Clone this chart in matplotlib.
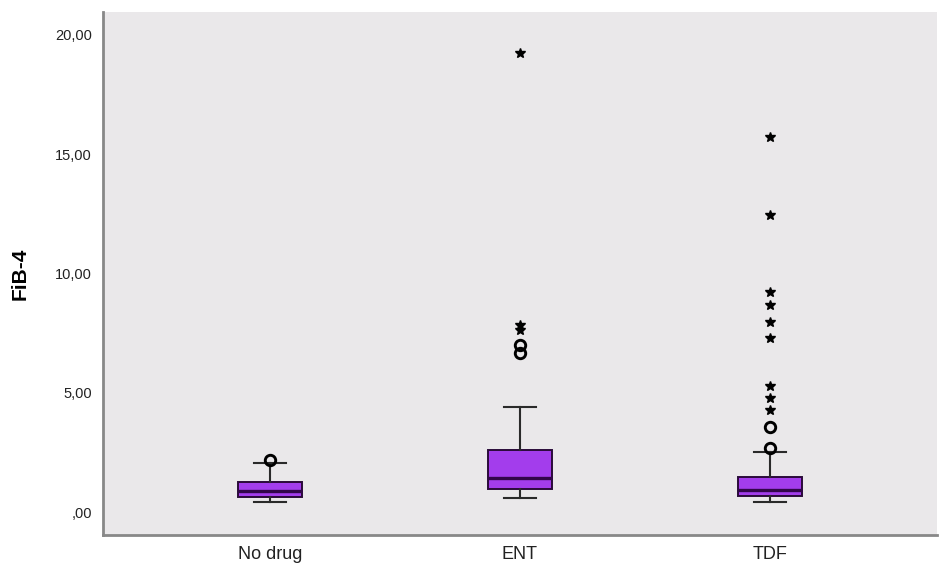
import matplotlib
matplotlib.use("Agg")
import matplotlib.pyplot as plt

plt.rcParams['font.family'] = ['Liberation Sans', 'DejaVu Sans']

categories = ["No drug", "ENT", "TDF"]
q1 = [0.63, 0.95, 0.68]
median = [0.88, 1.41, 0.92]
q3 = [1.26, 2.60, 1.45]
whisker_low = [0.42, 0.57, 0.43]
whisker_high = [2.05, 4.42, 2.53]
# mild outliers (circles) and extreme outliers (stars)
circles = [[2.18], [6.68, 7.00], [2.70, 3.55]]
stars = [[], [7.63, 7.84, 19.25], [4.28, 4.79, 5.28, 7.28, 7.95, 8.68, 9.21, 12.47, 15.74]]
yticks = [0, 5, 10, 15, 20]
ytick_labels = [",00", "5,00", "10,00", "15,00", "20,00"]

fig = plt.figure(figsize=(9.45, 5.75), dpi=100)
ax = fig.add_axes([0.109, 0.0696, 0.8825, 0.9094])
ax.set_facecolor('#EAE8EA')

stats = []
for i, c in enumerate(categories):
    stats.append(dict(label=c, q1=q1[i], med=median[i], q3=q3[i],
                      whislo=whisker_low[i], whishi=whisker_high[i], fliers=[]))

positions = list(range(len(categories)))
ax.bxp(stats, positions=positions, widths=0.255, patch_artist=True,
       showfliers=False,
       boxprops=dict(facecolor='#A33DEC', edgecolor='#2A0A3A', linewidth=1.4),
       medianprops=dict(color='#32064A', linewidth=2.4),
       whiskerprops=dict(color='#2A2A2A', linewidth=1.5),
       capprops=dict(color='#2A2A2A', linewidth=1.5),
       capwidths=0.13)

for i in positions:
    if circles[i]:
        ax.plot([i] * len(circles[i]), circles[i], linestyle='none', marker='o',
                markersize=7.5, markerfacecolor='none', markeredgecolor='black',
                markeredgewidth=2.1, zorder=5)
    if stars[i]:
        ax.plot([i] * len(stars[i]), stars[i], linestyle='none', marker='*',
                markersize=7, color='black', zorder=5)

ax.set_xlim(-0.668, 2.668)
ax.set_ylim(-0.96, 20.96)
ax.set_yticks(yticks)
ax.set_yticklabels(ytick_labels, fontsize=10.5, color='#222222')
ax.set_xticks(positions)
ax.set_xticklabels(categories, fontsize=13, color='#222222')
ax.tick_params(axis='both', length=0, pad=8)
ax.set_ylabel("FiB-4", fontsize=15, fontweight='bold', labelpad=18)

for s in ['top', 'right']:
    ax.spines[s].set_visible(False)
for s in ['left', 'bottom']:
    ax.spines[s].set_color('#888888')
    ax.spines[s].set_linewidth(2)

fig.savefig("out.png", dpi=100)
